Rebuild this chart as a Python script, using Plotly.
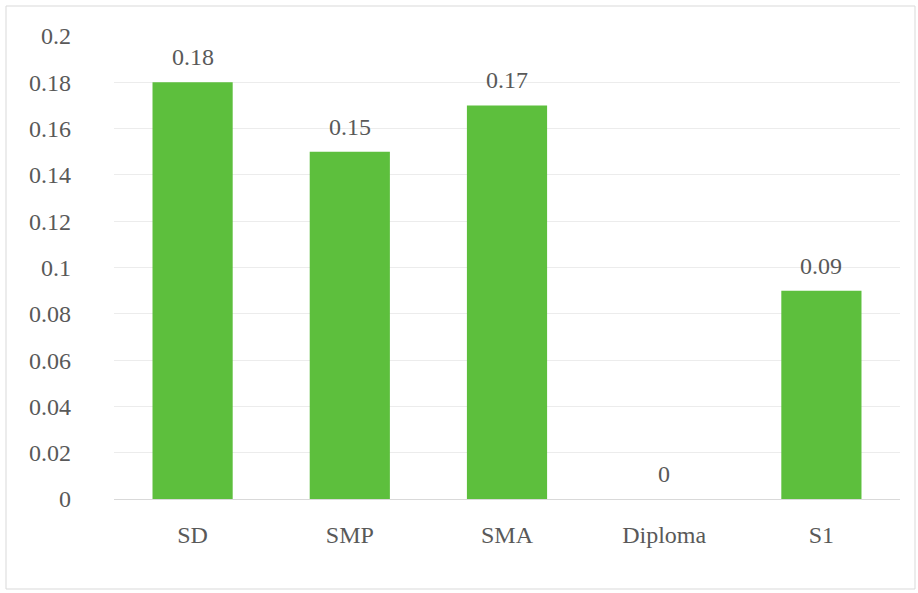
import plotly.graph_objects as go

# Education level categories and their values
categories = ["SD", "SMP", "SMA", "Diploma", "S1"]
values = [0.18, 0.15, 0.17, 0, 0.09]
value_labels = ["0.18", "0.15", "0.17", "0", "0.09"]
tick_vals = [0, 0.02, 0.04, 0.06, 0.08, 0.1, 0.12, 0.14, 0.16, 0.18, 0.2]
tick_text = ["0", "0.02", "0.04", "0.06", "0.08", "0.1", "0.12", "0.14", "0.16", "0.18", "0.2"]

W, H = 918, 593
ML, MR, MT, MB = 114, 18, 36, 94
font_family = "'Liberation Serif', 'Times New Roman', 'DejaVu Serif', serif"
text_color = "#595959"
font_size = 24

fig = go.Figure(
    go.Bar(
        x=categories,
        y=values,
        marker=dict(color="#5dbf3d", line=dict(width=0)),
        width=0.51,
        hoverinfo="x+y",
    )
)

# Value labels sitting above each bar
for cat, val, lab in zip(categories, values, value_labels):
    fig.add_annotation(
        x=cat, y=val, text=lab,
        xref="x", yref="y",
        showarrow=False,
        yanchor="bottom",
        yshift=10,
        font=dict(family=font_family, size=font_size, color=text_color),
    )

fig.update_layout(
    width=W,
    height=H,
    margin=dict(l=ML, r=MR, t=MT, b=MB),
    paper_bgcolor="white",
    plot_bgcolor="white",
    showlegend=False,
    font=dict(family=font_family),
    xaxis=dict(
        showgrid=False,
        showline=True,
        linecolor="#d9d9d9",
        linewidth=1,
        ticks="",
        tickfont=dict(family=font_family, size=font_size, color=text_color),
        ticklabelstandoff=14,
    ),
    yaxis=dict(
        range=[0, 0.2],
        tickvals=tick_vals,
        ticktext=tick_text,
        showgrid=True,
        gridcolor="#ececec",
        gridwidth=1,
        zeroline=False,
        showline=False,
        ticks="",
        tickfont=dict(family=font_family, size=font_size, color=text_color),
        ticklabelstandoff=42,
    ),
)

# Light frame around the whole chart area
pw, ph = W - ML - MR, H - MT - MB
fig.add_shape(
    type="rect",
    xref="paper", yref="paper",
    x0=(6 - ML) / pw, x1=(915 - ML) / pw,
    y0=-(589 - MT - ph) / ph, y1=1 + (MT - 6) / ph,
    line=dict(color="#d9d9d9", width=1),
    fillcolor="rgba(0,0,0,0)",
    layer="below",
)

fig.write_html("out.html")
